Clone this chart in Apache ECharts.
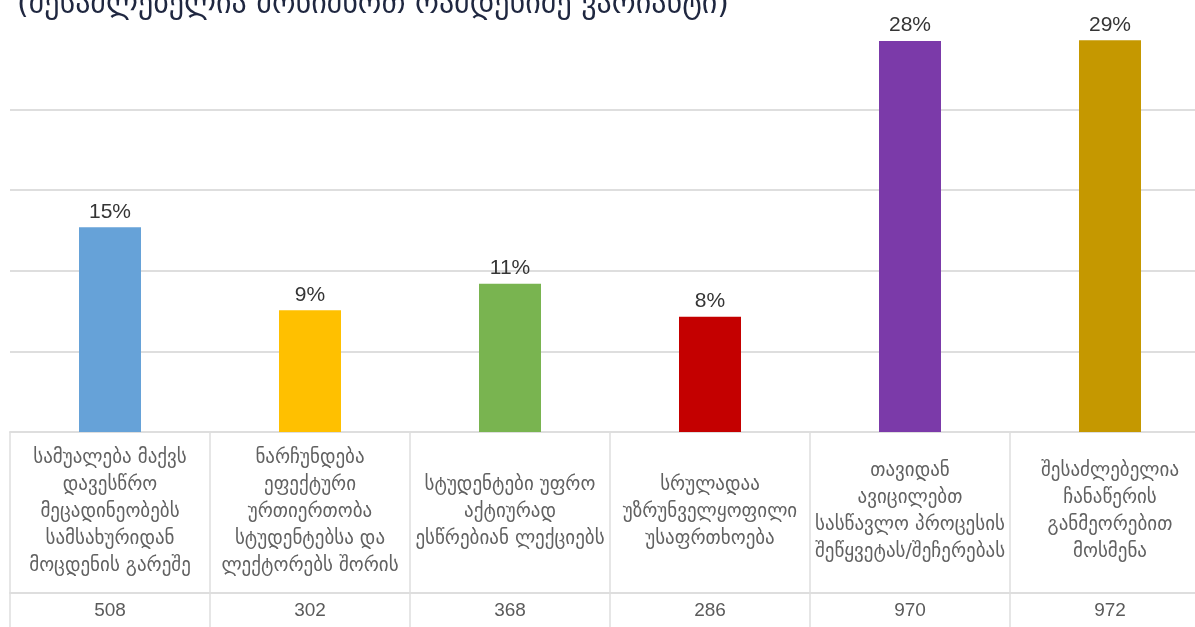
<!DOCTYPE html>
<html>
<head>
<meta charset="utf-8">
<title>chart</title>
<script src="https://cdn.jsdelivr.net/npm/echarts@6/dist/echarts.min.js"></script>
<style>
  html, body { margin: 0; padding: 0; background: #fff; }
  #main { width: 1195px; height: 627px; }
</style>
</head>
<body>
<div id="main"></div>
<script>
// data
var categories = [
  'სამუალება მაქვს\nდავესწრო\nმეცადინეობებს\nსამსახურიდან\nმოცდენის გარეშე',
  'ნარჩუნდება\nეფექტური\nურთიერთობა\nსტუდენტებსა და\nლექტორებს შორის',
  'სტუდენტები უფრო\nაქტიურად\nესწრებიან ლექციებს',
  'სრულადაა\nუზრუნველყოფილი\nუსაფრთხოება',
  'თავიდან\nავიცილებთ\nსასწავლო პროცესის\nშეწყვეტას/შეჩერებას',
  'შესაძლებელია\nჩანაწერის\nგანმეორებით\nმოსმენა'
];
var counts = [508, 302, 368, 286, 970, 972];
var percentLabels = ['15%', '9%', '11%', '8%', '28%', '29%'];
var barColors = ['#66A2D8', '#FFC000', '#79B450', '#C40000', '#7B3AA9', '#C59800'];
var titleText = '(შესაძლებელია მონიშნოთ რამდენიმე ვარიანტი)';

var georgian = '"DejaVu Sans", sans-serif';
var gridColor = '#dedede';

var myChart = echarts.init(document.getElementById('main'));

var option = {
  animation: false,
  title: {
    text: titleText,
    left: 12,
    top: -15,
    textStyle: { fontFamily: georgian, fontSize: 30, fontWeight: 'normal', color: '#1f2740' }
  },
  grid: { left: 10, right: -15, top: 29, bottom: 195, outerBoundsMode: 'none', containLabel: false },
  xAxis: [
    {
      type: 'category',
      data: categories,
      axisLine: { show: true, lineStyle: { color: gridColor, width: 2 } },
      axisTick: { show: true, length: 200, lineStyle: { color: gridColor, width: 1.5 } },
      axisLabel: {
        interval: 0,
        margin: 80,
        verticalAlign: 'middle',
        fontFamily: georgian,
        fontSize: 19,
        lineHeight: 27,
        color: '#616161'
      }
    },
    {
      type: 'category',
      position: 'bottom',
      offset: 161,
      data: counts.map(String),
      axisLine: { show: true, lineStyle: { color: gridColor, width: 2 } },
      axisTick: { show: false },
      axisLabel: {
        interval: 0,
        margin: 8,
        fontFamily: '"Liberation Sans", sans-serif',
        fontSize: 19,
        color: '#5a5a5a'
      }
    }
  ],
  yAxis: {
    type: 'value',
    min: 0,
    max: 1000,
    interval: 200,
    axisLabel: { show: false },
    axisLine: { show: false },
    axisTick: { show: false },
    splitLine: {
      lineStyle: {
        width: 2,
        // top line (1000) is not drawn in the original
        color: [gridColor, gridColor, gridColor, gridColor, gridColor, 'rgba(0,0,0,0)']
      }
    }
  },
  series: [
    {
      type: 'bar',
      xAxisIndex: 0,
      barWidth: 62,
      data: counts.map(function (v, i) {
        return { value: v, itemStyle: { color: barColors[i] } };
      }),
      label: {
        show: true,
        position: 'top',
        distance: 5,
        fontFamily: '"Liberation Sans", sans-serif',
        fontSize: 21,
        color: '#353535',
        formatter: function (p) { return percentLabels[p.dataIndex]; }
      }
    }
  ]
};

myChart.setOption(option);
</script>
</body>
</html>
